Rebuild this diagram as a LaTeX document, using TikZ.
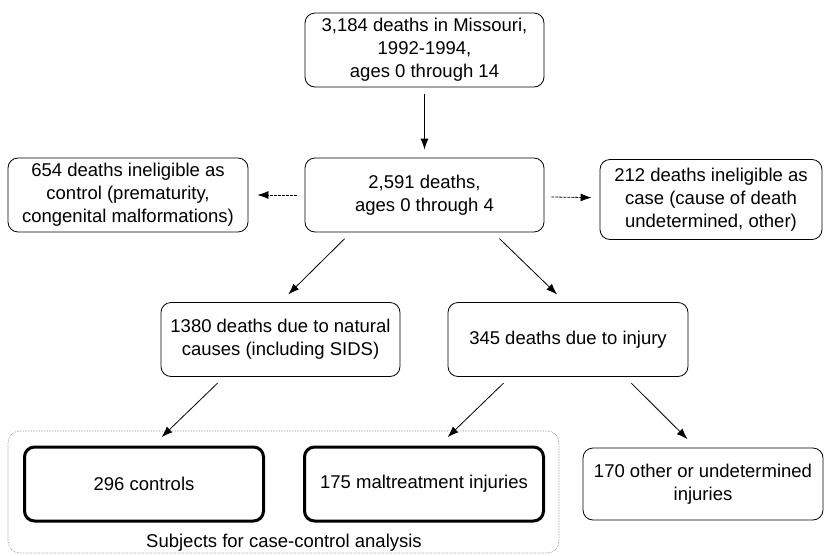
\documentclass[tikz,border=0pt]{standalone}
\usepackage{fontspec}
\setmainfont{Liberation Sans}
\usetikzlibrary{arrows.meta}
\newcommand*\boxwd{239pt}
\newcommand*\boxht{74pt}
\newcommand*\gapdiag{9pt}
\tikzset{
    flowbox/.style   = {draw, rounded corners=10pt, line width=0.8pt,
                       minimum width=\boxwd, minimum height=\boxht,
                       inner sep=0pt, align=center,
                       font=\fontsize{18.5}{23}\selectfont},
    thickbox/.style  = {flowbox, line width=3pt},
    groupbox/.style  = {draw, densely dotted, gray, line width=0.6pt,
                       rounded corners=12pt},
    flowarrow/.style = {-{Latex[length=11pt,width=8pt]}, line width=0.8pt},
    sidearrow/.style = {flowarrow, dash pattern=on 3pt off 1pt},
    grouplabel/.style= {font=\fontsize{18.5}{22}\selectfont},
}
\begin{document}
\begin{tikzpicture}[x=1pt,y=-1pt]
    \useasboundingbox (0,0) rectangle (831,555);

    % Dotted frame round the case-control subjects
    \draw[groupbox] (8,431) rectangle (559,553);
    \node[grouplabel] (subj) at (284,543) {Subjects for case-control analysis};

    % Boxes
    \node[flowbox] (all)     at (424.5,50)  {3,184 deaths in Missouri,\\1992-1994,\\ages 0 through 14};
    \node[flowbox] (young)   at (424.5,195) {2,591 deaths,\\ages 0 through 4};
    \node[flowbox, minimum width=240pt] (noctrl) at (128,195)
        {654 deaths ineligible as\\control (prematurity,\\congenital malformations)};
    \node[flowbox, minimum width=222pt, minimum height=80pt] (nocase) at (711,199.5)
        {212 deaths ineligible as\\case (cause of death\\undetermined, other)};
    \node[flowbox] (natural) at (280.5,339.5) {1380 deaths due to natural\\causes (including SIDS)};
    \node[flowbox, minimum width=240pt] (injury) at (568,339.5) {345 deaths due to injury};
    \node[thickbox] (controls) at (144,484)  {296 controls};
    \node[thickbox] (maltreat) at (424,484)  {175 maltreatment injuries};
    \node[flowbox, minimum width=240pt, minimum height=72pt] (other) at (703,484)
        {170 other or undetermined\\injuries};

    % Arrows
    \draw[flowarrow, shorten <=7pt, shorten >=8pt] (all) -- (young);
    \draw[sidearrow, shorten <=8pt, shorten >=9pt] (young) -- (noctrl);
    \draw[sidearrow, shorten <=7pt, shorten >=8pt] (young) -- (nocase);
    \draw[flowarrow, shorten <=\gapdiag, shorten >=11pt]
        ([xshift=-73.5pt]young.south) -- (natural.north);
    \draw[flowarrow, shorten <=\gapdiag, shorten >=11pt]
        ([xshift=68.5pt]young.south) -- ([xshift=-3pt]injury.north);
    \draw[flowarrow, shorten <=\gapdiag, shorten >=12pt]
        ([xshift=-56.5pt]natural.south) -- ([xshift=9pt]controls.north);
    \draw[flowarrow, shorten <=\gapdiag, shorten >=12pt]
        ([xshift=-58pt]injury.south) -- ([xshift=15pt]maltreat.north);
    \draw[flowarrow, shorten <=\gapdiag, shorten >=12pt]
        ([xshift=57pt]injury.south) -- ([xshift=-7pt]other.north);
\end{tikzpicture}
\end{document}
